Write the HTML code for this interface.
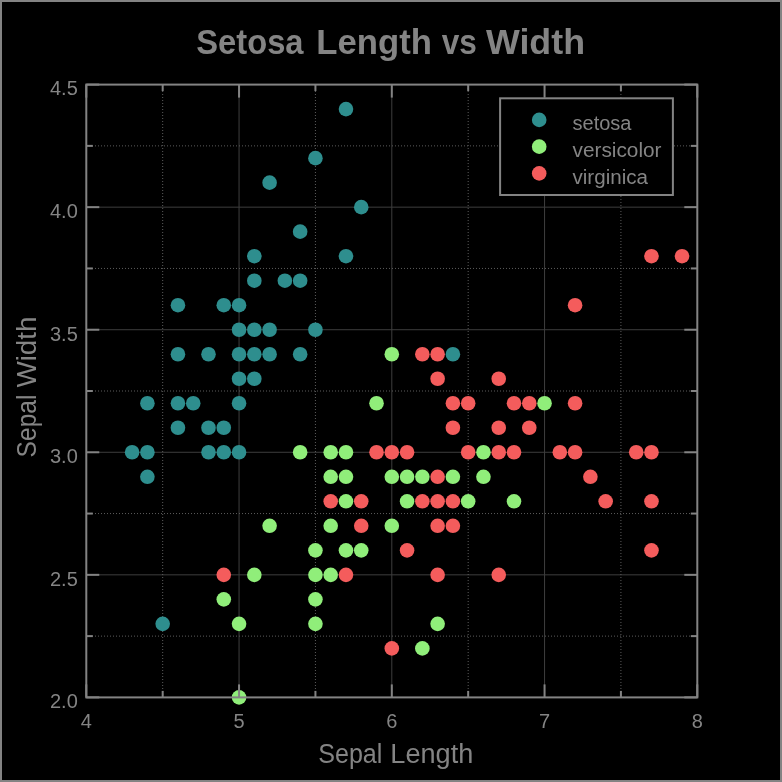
<!DOCTYPE html>
<html><head><meta charset="utf-8"><style>
html,body{margin:0;padding:0;background:#000;width:782px;height:782px;overflow:hidden;}
svg{display:block;will-change:transform;}
</style></head><body>
<svg width="782" height="782" viewBox="0 0 782 782" font-family="Liberation Sans, sans-serif">
<rect x="1" y="1" width="780" height="780" fill="#000" stroke="#838383" stroke-width="2"/>
<g stroke="#3e3e3e" stroke-width="1"><line x1="239.05" y1="84.6" x2="239.05" y2="697.4"/><line x1="391.80" y1="84.6" x2="391.80" y2="697.4"/><line x1="544.55" y1="84.6" x2="544.55" y2="697.4"/><line x1="86.3" y1="574.84" x2="697.3" y2="574.84"/><line x1="86.3" y1="452.28" x2="697.3" y2="452.28"/><line x1="86.3" y1="329.72" x2="697.3" y2="329.72"/><line x1="86.3" y1="207.16" x2="697.3" y2="207.16"/></g>
<g stroke="#5c5c5c" stroke-width="1" stroke-dasharray="1 2"><line x1="162.68" y1="85" x2="162.68" y2="697.4"/><line x1="315.43" y1="85" x2="315.43" y2="697.4"/><line x1="468.18" y1="85" x2="468.18" y2="697.4"/><line x1="620.92" y1="85" x2="620.92" y2="697.4"/><line x1="86" y1="636.12" x2="697.3" y2="636.12"/><line x1="86" y1="513.56" x2="697.3" y2="513.56"/><line x1="86" y1="391.00" x2="697.3" y2="391.00"/><line x1="86" y1="268.44" x2="697.3" y2="268.44"/><line x1="86" y1="145.88" x2="697.3" y2="145.88"/></g>
<g><circle cx="223.78" cy="452.28" r="7.3" fill="#2e8e8e"/><circle cx="177.95" cy="427.77" r="7.3" fill="#2e8e8e"/><circle cx="239.05" cy="305.21" r="7.3" fill="#2e8e8e"/><circle cx="177.95" cy="354.23" r="7.3" fill="#2e8e8e"/><circle cx="147.40" cy="476.79" r="7.3" fill="#2e8e8e"/><circle cx="300.15" cy="280.70" r="7.3" fill="#2e8e8e"/><circle cx="132.12" cy="452.28" r="7.3" fill="#2e8e8e"/><circle cx="361.25" cy="207.16" r="7.3" fill="#2e8e8e"/><circle cx="345.98" cy="109.11" r="7.3" fill="#2e8e8e"/><circle cx="300.15" cy="231.67" r="7.3" fill="#2e8e8e"/><circle cx="254.32" cy="329.72" r="7.3" fill="#2e8e8e"/><circle cx="345.98" cy="256.18" r="7.3" fill="#2e8e8e"/><circle cx="254.32" cy="280.70" r="7.3" fill="#2e8e8e"/><circle cx="177.95" cy="305.21" r="7.3" fill="#2e8e8e"/><circle cx="254.32" cy="378.74" r="7.3" fill="#2e8e8e"/><circle cx="208.50" cy="354.23" r="7.3" fill="#2e8e8e"/><circle cx="239.05" cy="452.28" r="7.3" fill="#2e8e8e"/><circle cx="239.05" cy="354.23" r="7.3" fill="#2e8e8e"/><circle cx="269.60" cy="329.72" r="7.3" fill="#2e8e8e"/><circle cx="269.60" cy="354.23" r="7.3" fill="#2e8e8e"/><circle cx="193.23" cy="403.26" r="7.3" fill="#2e8e8e"/><circle cx="208.50" cy="427.77" r="7.3" fill="#2e8e8e"/><circle cx="300.15" cy="354.23" r="7.3" fill="#2e8e8e"/><circle cx="269.60" cy="182.65" r="7.3" fill="#2e8e8e"/><circle cx="315.43" cy="158.14" r="7.3" fill="#2e8e8e"/><circle cx="223.78" cy="427.77" r="7.3" fill="#2e8e8e"/><circle cx="239.05" cy="403.26" r="7.3" fill="#2e8e8e"/><circle cx="315.43" cy="329.72" r="7.3" fill="#2e8e8e"/><circle cx="223.78" cy="305.21" r="7.3" fill="#2e8e8e"/><circle cx="147.40" cy="452.28" r="7.3" fill="#2e8e8e"/><circle cx="254.32" cy="354.23" r="7.3" fill="#2e8e8e"/><circle cx="162.68" cy="623.86" r="7.3" fill="#2e8e8e"/><circle cx="147.40" cy="403.26" r="7.3" fill="#2e8e8e"/><circle cx="239.05" cy="329.72" r="7.3" fill="#2e8e8e"/><circle cx="208.50" cy="452.28" r="7.3" fill="#2e8e8e"/><circle cx="254.32" cy="256.18" r="7.3" fill="#2e8e8e"/><circle cx="177.95" cy="403.26" r="7.3" fill="#2e8e8e"/><circle cx="284.87" cy="280.70" r="7.3" fill="#2e8e8e"/><circle cx="239.05" cy="378.74" r="7.3" fill="#2e8e8e"/><circle cx="452.90" cy="354.23" r="7.3" fill="#2e8e8e"/><circle cx="544.55" cy="403.26" r="7.3" fill="#90ee7a"/><circle cx="315.43" cy="623.86" r="7.3" fill="#90ee7a"/><circle cx="468.18" cy="501.30" r="7.3" fill="#90ee7a"/><circle cx="223.78" cy="599.35" r="7.3" fill="#90ee7a"/><circle cx="483.45" cy="476.79" r="7.3" fill="#90ee7a"/><circle cx="269.60" cy="525.82" r="7.3" fill="#90ee7a"/><circle cx="239.05" cy="697.40" r="7.3" fill="#90ee7a"/><circle cx="407.07" cy="476.79" r="7.3" fill="#90ee7a"/><circle cx="330.70" cy="476.79" r="7.3" fill="#90ee7a"/><circle cx="422.35" cy="648.38" r="7.3" fill="#90ee7a"/><circle cx="330.70" cy="574.84" r="7.3" fill="#90ee7a"/><circle cx="376.53" cy="403.26" r="7.3" fill="#90ee7a"/><circle cx="407.07" cy="501.30" r="7.3" fill="#90ee7a"/><circle cx="452.90" cy="476.79" r="7.3" fill="#90ee7a"/><circle cx="483.45" cy="452.28" r="7.3" fill="#90ee7a"/><circle cx="514.00" cy="501.30" r="7.3" fill="#90ee7a"/><circle cx="391.80" cy="476.79" r="7.3" fill="#90ee7a"/><circle cx="345.98" cy="550.33" r="7.3" fill="#90ee7a"/><circle cx="315.43" cy="599.35" r="7.3" fill="#90ee7a"/><circle cx="391.80" cy="525.82" r="7.3" fill="#90ee7a"/><circle cx="300.15" cy="452.28" r="7.3" fill="#90ee7a"/><circle cx="391.80" cy="354.23" r="7.3" fill="#90ee7a"/><circle cx="437.62" cy="623.86" r="7.3" fill="#90ee7a"/><circle cx="330.70" cy="452.28" r="7.3" fill="#90ee7a"/><circle cx="315.43" cy="574.84" r="7.3" fill="#90ee7a"/><circle cx="315.43" cy="550.33" r="7.3" fill="#90ee7a"/><circle cx="361.25" cy="550.33" r="7.3" fill="#90ee7a"/><circle cx="239.05" cy="623.86" r="7.3" fill="#90ee7a"/><circle cx="330.70" cy="525.82" r="7.3" fill="#90ee7a"/><circle cx="345.98" cy="452.28" r="7.3" fill="#90ee7a"/><circle cx="345.98" cy="476.79" r="7.3" fill="#90ee7a"/><circle cx="422.35" cy="476.79" r="7.3" fill="#90ee7a"/><circle cx="254.32" cy="574.84" r="7.3" fill="#90ee7a"/><circle cx="345.98" cy="501.30" r="7.3" fill="#90ee7a"/><circle cx="437.62" cy="378.74" r="7.3" fill="#f45c5c"/><circle cx="559.82" cy="452.28" r="7.3" fill="#f45c5c"/><circle cx="437.62" cy="476.79" r="7.3" fill="#f45c5c"/><circle cx="636.20" cy="452.28" r="7.3" fill="#f45c5c"/><circle cx="223.78" cy="574.84" r="7.3" fill="#f45c5c"/><circle cx="590.38" cy="476.79" r="7.3" fill="#f45c5c"/><circle cx="498.73" cy="574.84" r="7.3" fill="#f45c5c"/><circle cx="575.10" cy="305.21" r="7.3" fill="#f45c5c"/><circle cx="468.18" cy="403.26" r="7.3" fill="#f45c5c"/><circle cx="452.90" cy="525.82" r="7.3" fill="#f45c5c"/><circle cx="514.00" cy="452.28" r="7.3" fill="#f45c5c"/><circle cx="345.98" cy="574.84" r="7.3" fill="#f45c5c"/><circle cx="361.25" cy="501.30" r="7.3" fill="#f45c5c"/><circle cx="452.90" cy="403.26" r="7.3" fill="#f45c5c"/><circle cx="651.48" cy="256.18" r="7.3" fill="#f45c5c"/><circle cx="651.48" cy="550.33" r="7.3" fill="#f45c5c"/><circle cx="391.80" cy="648.38" r="7.3" fill="#f45c5c"/><circle cx="529.28" cy="403.26" r="7.3" fill="#f45c5c"/><circle cx="330.70" cy="501.30" r="7.3" fill="#f45c5c"/><circle cx="651.48" cy="501.30" r="7.3" fill="#f45c5c"/><circle cx="437.62" cy="525.82" r="7.3" fill="#f45c5c"/><circle cx="575.10" cy="403.26" r="7.3" fill="#f45c5c"/><circle cx="422.35" cy="501.30" r="7.3" fill="#f45c5c"/><circle cx="407.07" cy="452.28" r="7.3" fill="#f45c5c"/><circle cx="575.10" cy="452.28" r="7.3" fill="#f45c5c"/><circle cx="605.65" cy="501.30" r="7.3" fill="#f45c5c"/><circle cx="682.02" cy="256.18" r="7.3" fill="#f45c5c"/><circle cx="452.90" cy="501.30" r="7.3" fill="#f45c5c"/><circle cx="437.62" cy="501.30" r="7.3" fill="#f45c5c"/><circle cx="407.07" cy="550.33" r="7.3" fill="#f45c5c"/><circle cx="651.48" cy="452.28" r="7.3" fill="#f45c5c"/><circle cx="437.62" cy="354.23" r="7.3" fill="#f45c5c"/><circle cx="452.90" cy="427.77" r="7.3" fill="#f45c5c"/><circle cx="391.80" cy="452.28" r="7.3" fill="#f45c5c"/><circle cx="498.73" cy="427.77" r="7.3" fill="#f45c5c"/><circle cx="529.28" cy="427.77" r="7.3" fill="#f45c5c"/><circle cx="361.25" cy="525.82" r="7.3" fill="#f45c5c"/><circle cx="514.00" cy="403.26" r="7.3" fill="#f45c5c"/><circle cx="498.73" cy="378.74" r="7.3" fill="#f45c5c"/><circle cx="498.73" cy="452.28" r="7.3" fill="#f45c5c"/><circle cx="437.62" cy="574.84" r="7.3" fill="#f45c5c"/><circle cx="468.18" cy="452.28" r="7.3" fill="#f45c5c"/><circle cx="422.35" cy="354.23" r="7.3" fill="#f45c5c"/><circle cx="376.53" cy="452.28" r="7.3" fill="#f45c5c"/></g>
<g stroke="#838383" stroke-width="2" stroke-linecap="butt"><line x1="86.30" y1="697.4" x2="86.30" y2="684.4"/><line x1="86.30" y1="84.6" x2="86.30" y2="97.6"/><line x1="239.05" y1="697.4" x2="239.05" y2="684.4"/><line x1="239.05" y1="84.6" x2="239.05" y2="97.6"/><line x1="391.80" y1="697.4" x2="391.80" y2="684.4"/><line x1="391.80" y1="84.6" x2="391.80" y2="97.6"/><line x1="544.55" y1="697.4" x2="544.55" y2="684.4"/><line x1="544.55" y1="84.6" x2="544.55" y2="97.6"/><line x1="697.30" y1="697.4" x2="697.30" y2="684.4"/><line x1="697.30" y1="84.6" x2="697.30" y2="97.6"/><line x1="162.68" y1="697.4" x2="162.68" y2="690.9"/><line x1="162.68" y1="84.6" x2="162.68" y2="91.1"/><line x1="315.43" y1="697.4" x2="315.43" y2="690.9"/><line x1="315.43" y1="84.6" x2="315.43" y2="91.1"/><line x1="468.18" y1="697.4" x2="468.18" y2="690.9"/><line x1="468.18" y1="84.6" x2="468.18" y2="91.1"/><line x1="620.92" y1="697.4" x2="620.92" y2="690.9"/><line x1="620.92" y1="84.6" x2="620.92" y2="91.1"/><line x1="86.3" y1="697.40" x2="99.3" y2="697.40"/><line x1="697.3" y1="697.40" x2="684.3" y2="697.40"/><line x1="86.3" y1="574.84" x2="99.3" y2="574.84"/><line x1="697.3" y1="574.84" x2="684.3" y2="574.84"/><line x1="86.3" y1="452.28" x2="99.3" y2="452.28"/><line x1="697.3" y1="452.28" x2="684.3" y2="452.28"/><line x1="86.3" y1="329.72" x2="99.3" y2="329.72"/><line x1="697.3" y1="329.72" x2="684.3" y2="329.72"/><line x1="86.3" y1="207.16" x2="99.3" y2="207.16"/><line x1="697.3" y1="207.16" x2="684.3" y2="207.16"/><line x1="86.3" y1="84.60" x2="99.3" y2="84.60"/><line x1="697.3" y1="84.60" x2="684.3" y2="84.60"/><line x1="86.3" y1="636.12" x2="92.8" y2="636.12"/><line x1="697.3" y1="636.12" x2="690.8" y2="636.12"/><line x1="86.3" y1="513.56" x2="92.8" y2="513.56"/><line x1="697.3" y1="513.56" x2="690.8" y2="513.56"/><line x1="86.3" y1="391.00" x2="92.8" y2="391.00"/><line x1="697.3" y1="391.00" x2="690.8" y2="391.00"/><line x1="86.3" y1="268.44" x2="92.8" y2="268.44"/><line x1="697.3" y1="268.44" x2="690.8" y2="268.44"/><line x1="86.3" y1="145.88" x2="92.8" y2="145.88"/><line x1="697.3" y1="145.88" x2="690.8" y2="145.88"/><rect x="86.3" y="84.6" width="611.00" height="612.80" fill="none"/></g>
<g fill="#848484" font-family="Liberation Sans" font-size="20"><text x="86.30" y="728.2" text-anchor="middle">4</text><text x="239.05" y="728.2" text-anchor="middle">5</text><text x="391.80" y="728.2" text-anchor="middle">6</text><text x="544.55" y="728.2" text-anchor="middle">7</text><text x="697.30" y="728.2" text-anchor="middle">8</text><text x="77.8" y="708.20" text-anchor="end">2.0</text><text x="77.8" y="585.64" text-anchor="end">2.5</text><text x="77.8" y="463.08" text-anchor="end">3.0</text><text x="77.8" y="340.52" text-anchor="end">3.5</text><text x="77.8" y="217.96" text-anchor="end">4.0</text><text x="77.8" y="95.40" text-anchor="end">4.5</text></g>
<text x="196.34" y="54.00" textLength="107.16" lengthAdjust="spacingAndGlyphs" fill="#848484" font-size="34.2" font-weight="bold">Setosa</text>
<text x="316.36" y="54.00" textLength="115.56" lengthAdjust="spacingAndGlyphs" fill="#848484" font-size="34.2" font-weight="bold">Length</text>
<text x="441.80" y="54.00" textLength="35.12" lengthAdjust="spacingAndGlyphs" fill="#848484" font-size="34.2" font-weight="bold">vs</text>
<text x="485.96" y="54.00" textLength="99.08" lengthAdjust="spacingAndGlyphs" fill="#848484" font-size="34.2" font-weight="bold">Width</text>
<text x="318.18" y="762.50" textLength="64.24" lengthAdjust="spacingAndGlyphs" fill="#848484" font-size="27">Sepal</text>
<text x="390.38" y="762.50" textLength="82.88" lengthAdjust="spacingAndGlyphs" fill="#848484" font-size="27">Length</text>
<text transform="translate(36.00 457.40) rotate(-90)" textLength="62.80" lengthAdjust="spacingAndGlyphs" fill="#848484" font-size="27">Sepal</text>
<text transform="translate(36.00 387.58) rotate(-90)" textLength="71.12" lengthAdjust="spacingAndGlyphs" fill="#848484" font-size="27">Width</text>
<g><rect x="500.1" y="98.3" width="172.8" height="96.7" fill="#000" stroke="#838383" stroke-width="2"/><circle cx="539.2" cy="119.90" r="7.3" fill="#2e8e8e"/><text x="572.5" y="130.20" textLength="59" lengthAdjust="spacingAndGlyphs" fill="#848484" font-family="Liberation Sans" font-size="20">setosa</text><circle cx="539.2" cy="146.65" r="7.3" fill="#90ee7a"/><text x="572.5" y="156.95" textLength="89" lengthAdjust="spacingAndGlyphs" fill="#848484" font-family="Liberation Sans" font-size="20">versicolor</text><circle cx="539.2" cy="173.40" r="7.3" fill="#f45c5c"/><text x="572.5" y="183.70" textLength="75.5" lengthAdjust="spacingAndGlyphs" fill="#848484" font-family="Liberation Sans" font-size="20">virginica</text></g>
</svg>
</body></html>
